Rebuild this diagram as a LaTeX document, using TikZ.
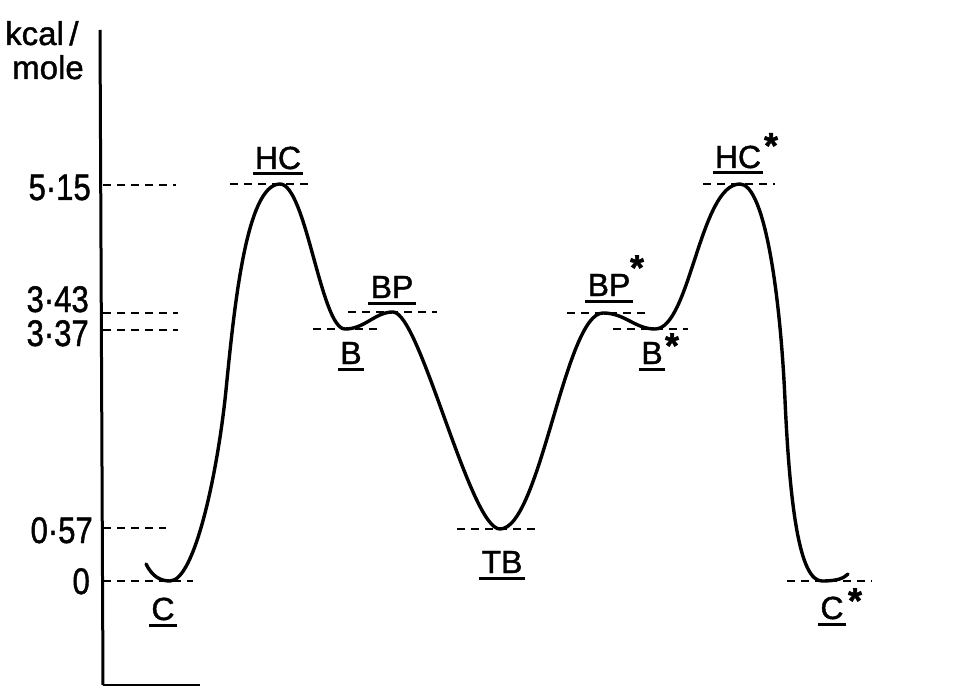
\documentclass[tikz,border=0pt]{standalone}
\usepackage{fontspec}
\usepackage{graphicx}
\setmainfont[FakeBold=1.3]{Liberation Sans}
\newcommand{\ulabel}[4]{%
  \node[lab, anchor=base] (#1) at (#2,#3) {#4};
  \draw[ulline] ([xshift=-2pt,yshift=-5pt]#1.base west) -- ([xshift=2pt,yshift=-5pt]#1.base east);}
\newcommand{\narrow}[1]{\scalebox{0.84}[1]{#1}}
\begin{document}
\begin{tikzpicture}[x=1pt,y=-1pt,
  curve/.style={line width=3.4pt, line cap=round, line join=round},
  lvl/.style={line width=2.6pt, dash pattern=on 8pt off 6pt},
  axisline/.style={line width=3pt},
  lab/.style={inner sep=0pt, font=\fontsize{32}{32}\selectfont},
  ticklab/.style={inner sep=0pt, anchor=base east, font=\fontsize{37}{37}\selectfont},
  unitlab/.style={inner sep=0pt, anchor=base west, font=\fontsize{33}{33}\selectfont},
  ulline/.style={line width=3pt},
  starlab/.style={inner sep=0pt, anchor=base, font=\bfseries\fontsize{36}{36}\selectfont}]
\useasboundingbox (0,0) rectangle (958,687);

% axis
\coordinate (atop) at (100,30);
\coordinate (abot) at (103,685);
\coordinate (aend) at (200,685);
\draw[axisline] (atop) -- (abot);
\draw[line width=2pt] (abot) -- (aend);

% unit label
\node[unitlab] (u1) at (5,45) {kcal\,/};
\node[unitlab] (u2) at (12,79) {mole};

% tick labels
\node[ticklab] (t515) at (91,200) {\narrow{5·15}};
\node[ticklab] (t343) at (89,312) {\narrow{3·43}};
\node[ticklab] (t337) at (89,346) {\narrow{3·37}};
\node[ticklab] (t057) at (93,543) {\narrow{0·57}};
\node[ticklab] (t0) at (90,594) {\narrow{0}};

% axis level lines
\coordinate (l515a) at (103,185); \coordinate (l515b) at (176,185);
\coordinate (l343a) at (103,313); \coordinate (l343b) at (178,313);
\coordinate (l337a) at (103,330); \coordinate (l337b) at (178,330);
\coordinate (l057a) at (103,528); \coordinate (l057b) at (166,528);
\coordinate (l0a) at (103,581); \coordinate (l0b) at (193,581);
\draw[lvl] (l515a) -- (l515b);
\draw[lvl] (l343a) -- (l343b);
\draw[lvl] (l337a) -- (l337b);
\draw[lvl] (l057a) -- (l057b);
\draw[lvl] (l0a) -- (l0b);

% stationary points
\coordinate (s0) at (146,564);
\coordinate (c) at (170,581);
\coordinate (p1) at (226,390);
\coordinate (hc) at (280,184);
\coordinate (b) at (345,329);
\coordinate (bp) at (393,312);
\coordinate (tb) at (500,529);
\coordinate (bps) at (603,313);
\coordinate (bs) at (655,329);
\coordinate (hcs) at (740,184);
\coordinate (r) at (785,400);
\coordinate (cs) at (822,581);
\coordinate (e) at (848,574);

% level dashes at stationary points
\draw[lvl] ([xshift=-50pt]hc) -- ([xshift=32pt]hc);
\draw[lvl] ([xshift=-32pt]b) -- ([xshift=35pt]b);
\draw[lvl] ([xshift=-45pt]bp) -- ([xshift=44pt]bp);
\draw[lvl] ([xshift=-43pt]tb) -- ([xshift=37pt]tb);
\draw[lvl] ([xshift=-36pt]bps) -- ([xshift=45pt]bps);
\draw[lvl] ([xshift=-42pt]bs) -- ([xshift=33pt]bs);
\draw[lvl] ([xshift=-37pt]hcs) -- ([xshift=35pt]hcs);
\draw[lvl] ([xshift=-35pt]cs) -- ([xshift=50pt]cs);

% energy curve
\draw[curve] (s0) .. controls +(6,12) and +(-10,0) .. (c)
  .. controls +(25,0) and +(-8,80) .. (p1)
  .. controls +(8,-80) and +(-34,0) .. (hc)
  .. controls +(26,0) and +(-24,0) .. (b)
  .. controls +(20,0) and +(-18,0) .. (bp)
  .. controls +(27,0) and +(-30,0) .. (tb)
  .. controls +(40,0) and +(-38,0) .. (bps)
  .. controls +(22,0) and +(-20,0) .. (bs)
  .. controls +(35,0) and +(-40,0) .. (hcs)
  .. controls +(24,0) and +(-5,-110) .. (r)
  .. controls +(5,110) and +(-22,0) .. (cs)
  .. controls +(16,0) and +(-4,4) .. (e);

% labels
\ulabel{lhc}{278}{169}{HC}
\ulabel{lhcs}{738}{168}{HC}
\node[starlab] (shcs) at (771,158) {*};
\ulabel{lbp}{392}{298}{BP}
\ulabel{lbps}{609}{296}{BP}
\node[starlab] (sbps) at (637,280) {*};
\ulabel{lb}{351}{364}{B}
\ulabel{lbs}{652}{364}{B}
\node[starlab] (sbs) at (672,358) {*};
\ulabel{ltb}{502}{573}{TB}
\ulabel{lc}{163}{620}{C}
\ulabel{lcs}{832}{619}{C}
\node[starlab] (scs) at (855,613) {*};
\end{tikzpicture}
\end{document}
